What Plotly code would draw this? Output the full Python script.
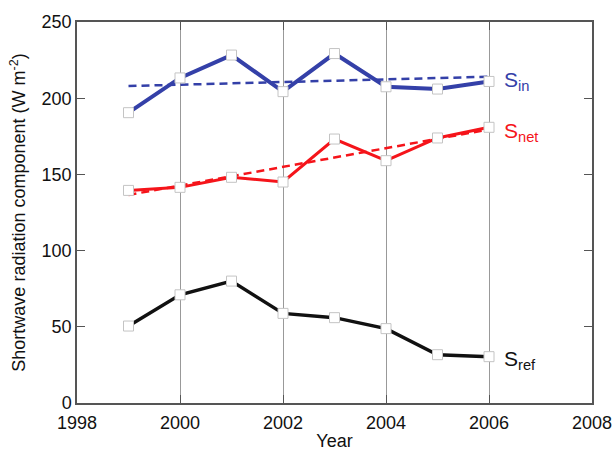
import plotly.graph_objects as go

# Annual shortwave radiation components
years = [1999, 2000, 2001, 2002, 2003, 2004, 2005, 2006]
s_in = [190.5, 213.3, 228.3, 204.3, 229.3, 207.5, 206.0, 211.0]
s_net = [139.5, 141.5, 148.1, 145.0, 173.2, 159.0, 173.9, 180.9]
s_ref = [50.5, 71.0, 80.0, 58.8, 56.0, 48.8, 31.7, 30.4]

# Linear trend end points (1999 and 2006)
trend_years = [1999, 2006]
s_in_trend = [208.0, 214.1]
s_net_trend = [136.5, 179.5]

BLUE = "#3440a8"
RED = "#f5141a"
BLACK = "#111111"
FONT = "Liberation Sans, Arial, Helvetica, sans-serif"

fig = go.Figure()

for ty, col in [(s_in_trend, BLUE), (s_net_trend, RED)]:
    fig.add_trace(go.Scatter(
        x=trend_years, y=ty, mode="lines",
        line=dict(color=col, width=2.5, dash="8px,5px"),
        hoverinfo="skip", showlegend=False))

for ys, col, w in [(s_in, BLUE, 4), (s_net, RED, 3), (s_ref, BLACK, 3.5)]:
    fig.add_trace(go.Scatter(
        x=years, y=ys, mode="lines+markers",
        line=dict(color=col, width=w),
        marker=dict(symbol="square", size=10, color="white",
                    line=dict(color="#c4c4c4", width=1)),
        showlegend=False))

labels = [("S<sub>in</sub>", 211, BLUE),
          ("S<sub>net</sub>", 178, RED),
          ("S<sub>ref</sub>", 28, BLACK)]
for txt, yv, col in labels:
    fig.add_annotation(x=2006, y=yv, xref="x", yref="y", text=txt,
                       showarrow=False, xanchor="left", yanchor="middle",
                       xshift=13, font=dict(family=FONT, size=21, color=col))

axis_common = dict(
    showline=True, linecolor="#555555", linewidth=1.5, mirror="ticks",
    ticks="inside", ticklen=8, tickcolor="#555555", tickwidth=1.2,
    tickfont=dict(family=FONT, size=18, color="#111111"),
    zeroline=False, automargin=False,
)

fig.update_xaxes(
    range=[1998, 2008], tickvals=[1998, 2000, 2002, 2004, 2006, 2008],
    showgrid=True, gridcolor="#999999", gridwidth=1,
    ticklabelstandoff=3,
    title=dict(text="Year", font=dict(family=FONT, size=18, color="#111111"), standoff=7),
    **axis_common)
fig.update_yaxes(
    range=[0, 250], tickvals=[0, 50, 100, 150, 200, 250],
    showgrid=False,
    title=dict(text="Shortwave radiation component (W m<sup>-2</sup>)",
               font=dict(family=FONT, size=18, color="#111111"), standoff=11),
    **axis_common)

fig.update_layout(
    width=616, height=451,
    margin=dict(l=77, r=24, t=22, b=48),
    paper_bgcolor="white", plot_bgcolor="white",
)

fig.write_html("out.html")
